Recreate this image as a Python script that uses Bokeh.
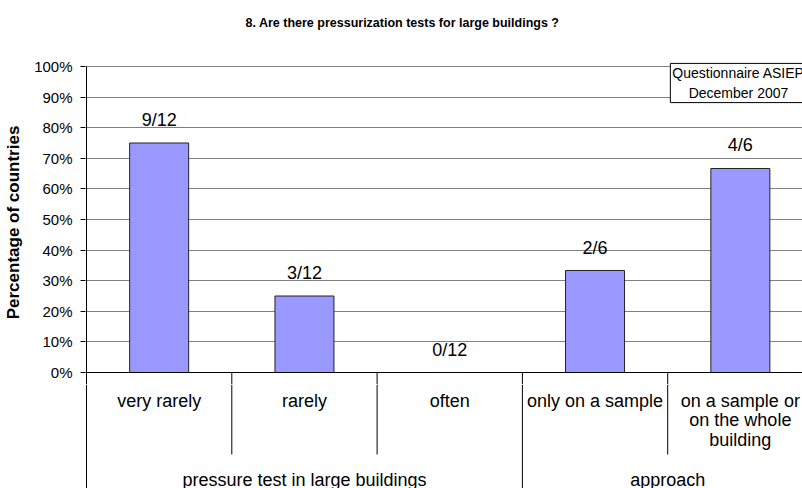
from bokeh.plotting import figure
from bokeh.layouts import column
from bokeh.models import ColumnDataSource, FixedTicker, Range1d, Label, Title
from bokeh.embed import file_html
from bokeh.resources import INLINE
from bokeh.core.properties import value

# ---------------- data ----------------
title_text = "8. Are there pressurization tests for large buildings ?"
y_axis_title = "Percentage of countries"
categories = ["very rarely", "rarely", "often", "only on a sample",
              "on a sample or\non the whole\nbuilding"]
groups = ["pressure test in large buildings", "approach"]
group_sizes = [3, 2]
values = [75.0, 25.0, 0.0, 33.33, 66.67]
bar_labels = ["9/12", "3/12", "0/12", "2/6", "4/6"]
y_ticks = [0, 10, 20, 30, 40, 50, 60, 70, 80, 90, 100]
y_tick_labels = ["0%", "10%", "20%", "30%", "40%", "50%", "60%", "70%", "80%", "90%", "100%"]
note_text = "Questionnaire ASIEP\nDecember 2007"

# ---------------- layout ----------------
FONT = "Liberation Sans"
W, H = 802, 488
CAT_PX = 145.3          # pixels per category
PCT_PX = 3.06           # pixels per percent
AXIS_X = 86             # px of the category axis origin
ZERO_Y = 372            # px of the 0% line
FRAME_LEFT = 85
FRAME_TOP = 60
SPLIT = 384             # px where the upper figure ends and the category band begins


def x_px(px):
    return (px - AXIS_X) / CAT_PX


def y_px(py):
    return (ZERO_Y - py) / PCT_PX


x_range = Range1d(x_px(FRAME_LEFT), x_px(W))
x_start, x_end = x_range.start, x_range.end

# ---------- upper figure: bars ----------
p = figure(width=W, height=SPLIT, output_backend="svg", toolbar_location=None,
           title=None, x_range=x_range, y_range=Range1d(y_px(SPLIT), y_px(FRAME_TOP)),
           x_axis_location=None, y_axis_location="left",
           min_border_left=FRAME_LEFT, min_border_right=0,
           min_border_top=FRAME_TOP, min_border_bottom=0,
           outline_line_color=None, tools="")

# spacer (closest to the frame) then the real title above it
p.add_layout(Title(text=" ", text_font=FONT, text_font_size="1px",
                   standoff=28), "above")
p.add_layout(Title(text=title_text, text_font=FONT, text_font_size="12.5px",
                   text_font_style="bold", text_color="black", align="left",
                   offset=160, vertical_align="bottom", standoff=0), "above")

p.xgrid.visible = False
p.ygrid.ticker = FixedTicker(ticks=y_ticks)
p.ygrid.grid_line_color = "#808080"

ax = p.yaxis[0]
ax.ticker = FixedTicker(ticks=y_ticks)
ax.major_label_overrides = {t: s for t, s in zip(y_ticks, y_tick_labels)}
ax.axis_line_color = None
ax.major_tick_in = 0
ax.major_tick_out = 5
ax.major_tick_line_color = "black"
ax.minor_tick_line_color = None
ax.major_label_standoff = 8
ax.major_label_text_font = FONT
ax.major_label_text_font_size = "15px"
ax.major_label_text_color = "black"
ax.axis_label = y_axis_title
ax.axis_label_text_font = FONT
ax.axis_label_text_font_size = "17px"
ax.axis_label_text_font_style = "bold"
ax.axis_label_text_color = "black"
ax.axis_label_standoff = 8

n = len(categories)
xs = [i + 0.5 for i in range(n)]

src = ColumnDataSource(dict(x=xs, top=values, lab=bar_labels))
p.vbar(x="x", top="top", bottom=0, width=0.406, source=src,
       fill_color="#9999FF", line_color="#222222", line_width=1)

# group structure
gx, start = [], 0
long_x, short_x = [0], []
for g in group_sizes:
    gx.append(start + g / 2)
    short_x += [start + k for k in range(1, g)]
    start += g
    long_x.append(start)
all_sep = long_x + short_x

y_bottom = y_px(SPLIT)
p.segment(x0=[x_start, 0], y0=[0, y_bottom], x1=[x_end, 0], y1=[0, 100],
          line_color="black", line_width=1)
p.segment(x0=all_sep[1:], y0=[0] * (len(all_sep) - 1), x1=all_sep[1:],
          y1=[y_bottom] * (len(all_sep) - 1), line_color="black", line_width=1)

p.text(x="x", y="top", text="lab", source=src, text_align="center",
       text_baseline="middle", y_offset=-23,
       text_font=value(FONT), text_font_size="18px", text_color="black")

p.add_layout(Label(x=x_px(738), y=y_px(82.5), text=note_text,
                   text_align="center", text_baseline="middle",
                   text_font=FONT, text_font_size="14px", text_color="black",
                   border_line_color="black", border_line_width=1,
                   background_fill_color="white", padding=2))

# ---------- lower figure: category band ----------
BH = H - SPLIT
q = figure(width=W, height=BH, output_backend="svg", toolbar_location=None,
           title=None, x_range=x_range, y_range=Range1d(BH, 0),
           x_axis_location=None, y_axis_location=None,
           min_border_left=FRAME_LEFT, min_border_right=0,
           min_border_top=0, min_border_bottom=0,
           outline_line_color=None, tools="")
q.xgrid.visible = False
q.ygrid.visible = False

q.segment(x0=long_x, y0=[0] * len(long_x), x1=long_x, y1=[BH] * len(long_x),
          line_color="black", line_width=1)
q.segment(x0=short_x, y0=[0] * len(short_x), x1=short_x,
          y1=[454 - SPLIT] * len(short_x), line_color="black", line_width=1)

cx, cy, ct = [], [], []
for i, c in enumerate(categories):
    for j, line in enumerate(c.split("\n")):
        cx.append(xs[i]); cy.append(400 - SPLIT + 19.5 * j); ct.append(line)
q.text(x=cx, y=cy, text=ct, text_align="center", text_baseline="middle",
       text_font=value(FONT), text_font_size="18px", text_color="black")

q.text(x=gx, y=[479 - SPLIT] * len(gx), text=groups, text_align="center",
       text_baseline="middle", text_font=value(FONT), text_font_size="18px",
       text_color="black")

layout = column(p, q, spacing=0)
open("out.html", "w").write(file_html(layout, INLINE))
